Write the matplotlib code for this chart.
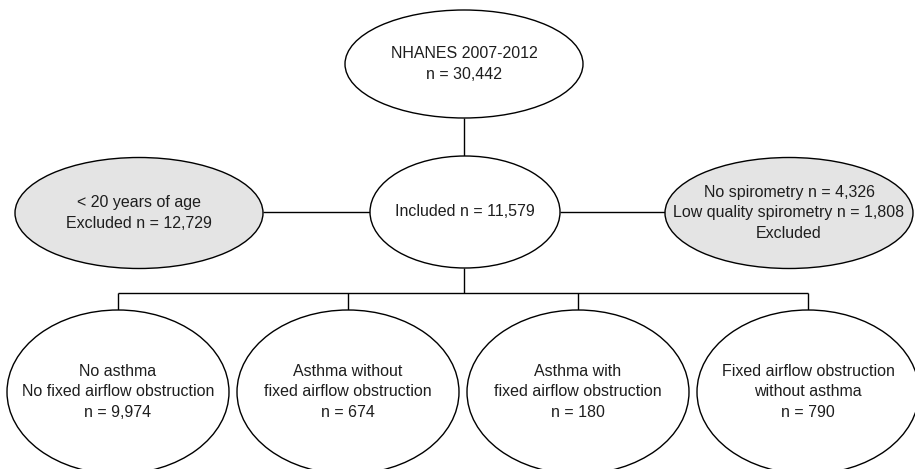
import matplotlib
matplotlib.use("Agg")
import matplotlib.pyplot as plt
from matplotlib.patches import Ellipse

plt.rcParams['font.family'] = ['Liberation Sans', 'DejaVu Sans']

# ---- data ----
top_label = ["NHANES 2007-2012", "n = 30,442"]
mid_label = ["Included n = 11,579"]
left_label = ["< 20 years of age", "Excluded n = 12,729"]
right_label = ["No spirometry n = 4,326", "Low quality spirometry n = 1,808", "Excluded"]
group_labels = [
    ["No asthma", "No fixed airflow obstruction", "n = 9,974"],
    ["Asthma without", "fixed airflow obstruction", "n = 674"],
    ["Asthma with", "fixed airflow obstruction", "n = 180"],
    ["Fixed airflow obstruction", "without asthma", "n = 790"],
]

# ---- layout (pixel coordinates) ----
W, H = 915, 469
fig = plt.figure(figsize=(W / 100, H / 100), dpi=100)
ax = fig.add_axes([0, 0, 1, 1])
ax.set_xlim(0, W)
ax.set_ylim(H, 0)
ax.axis('off')

LW = 1.0
FS = 11.5
GRAY = '#e4e4e4'


def node(cx, cy, w, h, lines, fill='white'):
    ax.add_patch(Ellipse((cx, cy), w, h, facecolor=fill, edgecolor='black', lw=LW, zorder=3))
    ax.text(cx, cy, "\n".join(lines), ha='center', va='center', fontsize=FS,
            linespacing=1.45, zorder=4, color='#1e1e1e')


def line(xs, ys):
    ax.plot(xs, ys, color='black', lw=LW, zorder=1, solid_capstyle='butt')


# top
node(464, 64, 238, 108, top_label)
line([464, 464], [118, 160])
# middle row
node(465, 212, 190, 112, mid_label)
node(139, 213, 248, 111, left_label, fill=GRAY)
node(789, 213, 248, 111, right_label, fill=GRAY)
line([263, 370], [212, 212])
line([560, 665], [212, 212])
line([464, 464], [268, 293])
# bottom
xs = [118, 348, 578, 808]
line([xs[0], xs[-1]], [293, 293])
for x, lab in zip(xs, group_labels):
    line([x, x], [293, 315])
    node(x, 392, 222, 164, lab)

fig.savefig("out.png", dpi=100)
